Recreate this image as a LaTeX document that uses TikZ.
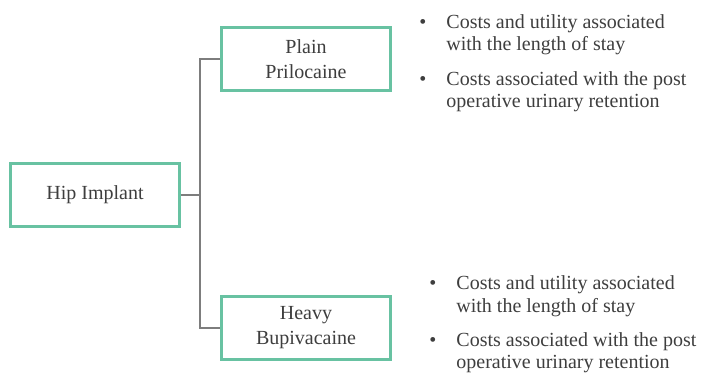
\documentclass[tikz,border=0pt]{standalone}
\usepackage{fontspec}
\setmainfont{Liberation Serif}
\usepackage{tikz}
\usetikzlibrary{
  positioning
}
\definecolor{boxgreen}{RGB}{104,194,162}
\definecolor{inkgray}{RGB}{62,62,62}
\definecolor{linkgray}{RGB}{125,125,125}
\tikzset{
  every node/.style={text=inkgray},
  arm/.style={draw=boxgreen, line width=1.5pt, fill=white,
    minimum width=84.5pt, minimum height=31.5pt, align=center,
    font=\fontsize{10}{12.5}\selectfont},
  link/.style={draw=linkgray, line width=0.6pt},
  notes/.style={anchor=base west, inner sep=0pt,
    font=\fontsize{10}{11}\selectfont}
}

\begin{document}
\begin{tikzpicture}
    \useasboundingbox (0,0) rectangle (352pt,187pt);
    \node[arm] (hip) at (47.5pt,89.5pt) {Hip Implant};
    \node[arm, above right=35pt and 19.5pt of hip] (plain) {Plain\\Prilocaine};
    \node[arm, below right=33.5pt and 19.5pt of hip] (heavy) {Heavy\\Bupivacaine};
    \coordinate (split) at (100pt,0pt);
    \draw[link] (hip.east) -- (hip.east -| split);
    \draw[link] (plain.west) -- (plain.west -| split) -- (heavy.west -| split) -- (heavy.west);
    \node[notes] (plainnotes) at (209.5pt,172.5pt) {%
      \begin{tabular}[t]{@{}l@{\hspace{10pt}}l@{}}
        \textbullet & Costs and utility associated\\
                    & with the length of stay\\[6.25pt]
        \textbullet & Costs associated with the post\\
                    & operative urinary retention
      \end{tabular}};
    \node[notes] (heavynotes) at (214.5pt,42pt) {%
      \begin{tabular}[t]{@{}l@{\hspace{10pt}}l@{}}
        \textbullet & Costs and utility associated\\
                    & with the length of stay\\[6.25pt]
        \textbullet & Costs associated with the post\\
                    & operative urinary retention
      \end{tabular}};
\end{tikzpicture}
\end{document}
